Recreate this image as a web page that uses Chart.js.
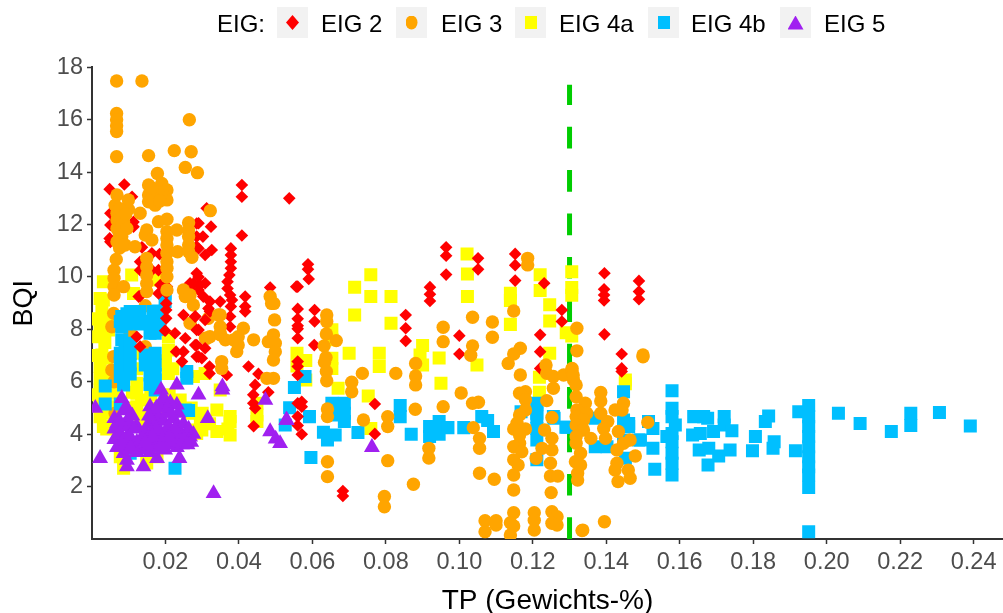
<!DOCTYPE html>
<html>
<head>
<meta charset="utf-8">
<title>BQI TP</title>
<script src="https://cdn.jsdelivr.net/npm/chart.js@4"></script>
<style>
    html, body { margin: 0; padding: 0; background: #fff; }
    #wrap { position: relative; width: 1003px; height: 613px; overflow: hidden; font-family: "Liberation Sans", Arial, sans-serif; }
    #myChart { position: absolute; left: 0; top: 0; }
    .leg { position: absolute; top: 7px; height: 31px; line-height: 34px; font-size: 24px; color: #000; white-space: nowrap; }
    .key { position: absolute; top: 7px; width: 31px; height: 31px; background: #f2f2f2; }
    .key span { position: absolute; }
</style>
</head>
<body>
<div id="wrap">
    <canvas id="myChart" width="1003" height="613"></canvas>
    <div id="legend"></div>
</div>
<script>
// Werte: [TP, BQI]
const eig2 = [
    [.0048,13.35],[.0088,13.53],[.0109,13.06],[.005,12.43],[.005,11.98],[.0113,12.1],[.0113,11.92],[.0048,11.47],[.005,11.34],
    [.0136,11.13],[.0163,10.9],[.0184,10.87],[.0181,10.26],[.0131,10.58],[.0131,10.26],[.0163,10.26],[.0131,9.27],[.0186,9.69],
    [.0204,9.63],[.0181,9.37],[.0285,12.04],[.0285,11.54],[.0284,11.15],[.0285,10.14],[.0276,9.75],[.0267,9.44],[.0294,9.69],
    [.0408,13.51],[.0408,13.06],[.0537,13.0],[.0312,12.62],[.029,12.05],[.0324,11.92],[.0302,11.54],[.0408,11.58],[.0326,11.03],
    [.029,11.09],[.0308,10.84],[.0378,11.09],[.0378,10.84],[.0378,10.58],[.0378,10.33],[.0374,10.07],[.0369,9.82],[.0369,9.56],
    [.0376,9.31],[.0381,9.12],[.029,10.0],[.0267,9.76],[.0308,9.76],[.029,9.5],[.0303,9.25],[.0321,9.06],[.0349,9.06],[.0417,9.25],
    [.0485,9.6],[.0556,9.63],[.0378,8.87],[.0317,8.8],[.0417,8.87],[.0417,8.68],[.0321,8.68],[.0376,8.49],[.0281,8.49],[.0308,8.36],
    [.0376,8.1],[.029,7.98],[.0308,7.28],[.0281,7.4],[.029,6.96],[.0299,6.9],[.0426,6.58],[.032,6.58],[.032,6.32],[.0453,6.3],
    [.0444,5.88],[.0439,5.5],[.0439,5.18],[.0444,4.99],[.048,5.6],[.0367,6.26],[.044,4.3],
    [.0202,9.38],[.0202,8.99],[.0202,8.74],[.0202,8.42],[.0199,7.95],[.0226,7.85],[.0254,7.66],[.0249,8.55],[.0281,8.49],[.0285,7.98],
    [.0285,7.4],[.0229,7.15],[.0249,7.15],[.0245,6.77],[.0285,6.96],[.0131,7.34],[.0122,7.72],[.0127,9.25],
    [.0588,10.48],[.0588,10.29],[.059,9.92],[.056,9.63],[.056,8.78],[.0606,8.74],[.056,8.4],[.056,8.14],[.056,8.02],[.056,7.66],
    [.0606,8.3],[.0605,7.4],[.056,6.77],[.056,6.58],[.056,6.26],[.0571,5.24],[.056,5.18],[.0571,5.05],[.056,4.67],[.056,4.33],[.0571,4.0],
    [.077,5.15],[.077,4.01],[.0683,1.83],[.0683,1.64],[.0964,11.13],[.0964,10.81],[.0964,10.09],[.1051,10.71],[.1051,10.29],
    [.092,9.61],[.092,9.34],[.092,9.08],[.0854,8.55],[.0854,8.04],[.0854,7.56],[.1,7.76],[.1,7.06],[.1152,10.88],[.1152,10.45],[.1152,9.86],
    [.1231,9.76],[.122,7.79],[.122,7.15],[.1279,8.74],[.1279,8.3],[.122,6.51],
    [.1395,10.14],[.1394,9.53],[.1394,9.31],[.1394,9.1],[.1395,7.81],[.1489,9.85],[.1489,9.44],[.1489,9.15],[.1442,7.06],[.1442,6.51],[.1442,6.39]
];
// EIG 3 unter den EIG-4b-Punkten
const eig3Unten = [
    [.0059,8.61],[.0054,8.1],[.0059,6.96],[.0054,6.45],[.0104,7.85],[.0145,7.34],[.0063,4.8],[.0060,6.0],[.0145,8.9],
    [.0267,8.23],[.0313,7.66],[.0254,9.25],[.0276,8.93],[.0317,8.42],[.0321,7.72],[.0309,7.66]
];
// EIG 3 ueber den anderen Punkten
const eig3 = [
    [.0067,17.48],[.0136,17.48],[.0067,16.24],[.0067,16.0],[.0067,15.77],[.0067,15.55],[.0265,16.0],[.0067,14.59],[.0154,14.63],
    [.0224,14.82],[.027,14.78],[.0254,14.18],[.0287,13.98],[.0178,13.95],[.0322,12.53],
    [.0154,13.51],[.019,13.57],[.0204,13.32],[.0154,13.13],[.0172,13.0],[.0154,12.87],[.0172,12.74],[.0204,12.94],[.019,13.25],
    [.018,13.2],[.0165,13.1],[.0185,12.9],[.0163,13.4],
    [.0068,13.13],[.0099,12.94],[.0099,12.58],[.0063,12.74],[.0131,12.43],[.0068,12.43],[.0068,12.17],[.0086,12.11],[.0068,11.85],
    [.0075,12.6],[.0075,12.2],[.0082,12.0],[.0075,11.6],[.0092,12.4],[.0082,11.3],[.0075,11.1],
    [.0095,11.85],[.0081,11.54],[.0068,11.34],[.009,11.22],[.0117,11.15],[.0149,11.79],[.0181,12.11],[.0204,12.2],[.0145,11.6],
    [.0163,11.41],[.0204,11.73],[.0204,11.47],[.0204,11.22],[.0204,10.9],[.0204,10.58],[.0204,10.33],[.0231,11.79],[.0263,12.07],
    [.0263,11.79],[.0263,11.54],[.0263,11.22],[.0233,10.96],[.0263,10.96],[.0272,10.75],[.0149,10.71],[.0149,10.39],[.0149,10.07],
    [.0149,9.75],[.0149,9.44],[.0066,10.67],[.006,10.26],[.006,9.95],[.006,9.63],[.0086,9.63],[.006,9.31],[.0204,10.01],[.0204,9.5],
    [.0249,9.5],[.0267,9.31],
    [.0485,9.25],[.0489,8.99],[.0495,8.99],[.0497,8.36],[.0494,7.79],[.048,7.53],[.0499,7.47],[.0499,7.15],[.0494,6.83],[.044,7.6],
    [.0349,8.55],[.0349,8.1],[.0349,7.79],[.0412,8.04],[.0398,7.72],[.0398,7.4],[.0394,7.15],[.0363,7.6],[.0385,7.6],
    [.0353,6.77],[.0353,6.51],[.0476,6.13],[.0494,6.13],[.0344,8.55],[.0349,7.85],
    [.0639,8.55],[.0639,8.3],[.0638,7.82],[.0632,7.37],[.0637,6.93],[.0633,6.74],[.0638,6.39],[.0639,6.04],[.0665,7.57],
    [.0707,5.98],[.0707,5.62],[.0736,6.32],[.0827,6.32],[.0881,6.7],[.0881,6.22],[.0881,5.88],[.088,4.95],[.0956,8.08],[.0956,7.53],
    [.0956,5.05],[.1036,8.46],[.109,8.28],[.109,7.7],[.1036,7.37],[.1031,7.01],[.1005,5.57],[.1052,5.22],[.1036,5.18],[.1038,4.25],
    [.1055,3.84],[.1055,3.46],[.1055,2.51],[.1095,2.28],[.0641,4.96],[.0641,4.67],[.0739,4.54],[.0805,4.67],[.0805,4.29],[.0641,2.95],
    [.0641,2.38],[.0805,2.99],[.0917,3.46],[.0917,3.09],[.0875,2.09],[.0796,1.62],[.0796,1.23],
    [.1148,8.7],[.1166,7.28],[.1148,7.06],[.1133,6.7],[.1166,6.26],[.1186,10.71],[.1186,10.46],
    [.118,5.62],[.1164,5.56],[.118,5.31],[.118,4.92],[.1164,4.73],[.1157,4.42],[.1148,4.2],[.118,4.2],[.1164,3.97],[.1164,3.65],
    [.1148,3.52],[.117,3.33],[.1148,3.02],[.116,2.82],[.1148,2.44],[.1148,1.87],
    [.1256,5.75],[.1238,5.28],[.1236,6.64],[.1238,6.32],[.1256,6.2],[.1284,6.26],[.1306,6.45],[.1311,6.07],
    [.1252,4.64],[.1232,4.16],[.1252,3.84],[.1225,3.46],[.1252,3.4],[.1209,3.08],[.1248,2.89],[.1248,2.4],[.1268,2.4],[.125,1.77],
    [.107,.7],[.107,.28],[.11,.7],[.11,.53],[.1148,1.0],[.1139,.62],[.1148,.5],[.1139,.15],[.1204,1.0],[.1204,.72],[.1204,.34],
    [.1252,1.04],[.1266,.85],[.1252,.6],[.1266,.53],[.1334,.32],
    [.132,8.04],[.132,7.18],[.15,7.02],[.15,6.95],[.1307,6.51],[.131,6.26],[.1318,5.88],[.1318,5.43],[.1343,5.18],[.132,4.92],
    [.1347,4.8],[.1318,4.67],[.1338,4.54],[.1318,4.35],[.1338,4.16],[.1318,3.91],[.1318,3.65],
    [.1385,5.59],[.1385,5.27],[.1385,4.8],[.1404,4.48],[.1393,4.22],[.1398,3.84],[.1424,4.92],[.1447,5.18],[.1443,4.92],[.1429,3.4],
    [.1447,3.65],[.1465,3.78],[.1433,4.1],[.1479,3.17],[.133,3.27],[.1316,2.95],[.133,2.82],[.1322,2.51],[.1322,2.25],[.1358,3.84],
    [.1429,2.89],[.1424,2.63],[.146,2.63],[.1465,2.32],[.1432,2.19],[.1513,4.45],[.1336,.34],[.1395,.66]
];
const eig4a = [
    [.0108,10.07],[.0031,9.82],[.0113,9.37],[.0181,9.88],[.0022,9.18],[.0031,9.12],[.0027,8.74],[.0022,8.1],[.0018,7.72],[.0027,7.02],
    [.0045,7.98],[.0059,8.23],[.0022,6.58],[.0045,6.32],[.0022,6.13],[.0022,5.69],[.0022,5.18],[.0022,4.67],[.0031,4.29],[.0059,5.56],
    [.0035,8.4],[.0015,8.4],[.0035,7.5],[.0015,7.0],[.004,6.9],[.0045,6.0],[.0035,5.6],[.005,5.0],[.0015,5.5],[.0035,4.8],[.004,4.2],
    [.0122,6.5],[.011,5.6],[.011,5.0],[.0135,5.3],[.0135,4.7],[.016,5.5],[.018,5.0],[.02,6.8],[.022,6.5],[.021,5.5],[.024,5.3],[.027,5.0],
    [.03,4.8],[.032,4.4],[.037,4.2],
    [.0059,5.05],[.0122,5.94],[.0122,5.56],[.0122,5.05],[.0131,4.48],[.0122,7.09],[.0208,7.72],[.0208,7.21],[.0208,6.32],[.0276,6.2],
    [.0308,6.32],[.0295,4.54],[.0285,4.03],[.034,4.92],[.0376,4.67],[.034,4.1],[.0376,3.97],[.0376,4.48],[.0267,4.8],[.0449,4.73],
    [.0449,5.18],[.0449,4.48],[.0349,5.69],[.0158,4.67],[.0077,3.14],[.0086,2.7],[.0149,2.9],[.0177,3.14],[.0272,4.16],[.0299,4.16],
    [.0759,10.08],[.0715,9.61],[.0759,9.25],[.0814,9.25],[.0715,8.55],[.0814,8.23],[.0653,7.98],[.0653,7.6],[.07,7.09],[.09,7.38],
    [.0782,7.09],[.0782,6.58],[.0893,7.02],[.09,6.64],[.0945,6.91],[.1048,6.64],[.1021,10.88],[.1022,10.11],[.1022,9.25],[.1139,9.38],
    [.1139,9.1],[.1139,8.19],[.122,10.08],[.122,9.48],[.1246,8.94],[.1246,8.32],[.1306,10.2],[.1306,9.6],[.1306,9.3],[.1291,7.87],
    [.1306,7.75],[.1246,7.09],[.1218,6.17],[.1218,5.6],[.095,5.94],[.067,5.75],[.0752,5.46],[.0759,4.22],[.0558,7.09],[.0558,6.6],
    [.0582,6.81],[.0582,6.07],[.0653,6.9],[.0653,6.51],[.1452,5.92],[.1452,6.07]
];
const eig4b = [
    [.0081,8.49],[.0104,8.68],[.0131,8.68],[.0167,8.68],[.0081,8.1],[.0081,7.6],[.0108,8.23],[.0158,8.23],[.0158,7.85],[.0077,7.09],
    [.0095,8.6],[.0095,8.2],[.0131,8.2],[.0145,8.3],[.018,8.7],[.018,8.3],[.0172,7.85],[.0077,8.3],[.009,7.4],[.009,6.9],[.009,6.4],
    [.0104,6.3],[.0185,8.0],[.0172,6.3],[.0158,5.9],
    [.0104,7.47],[.0104,7.09],[.0077,6.7],[.0077,6.2],[.0104,6.64],[.0086,5.88],[.0145,7.02],[.0172,7.09],[.0145,6.64],[.0172,6.64],
    [.0158,6.26],[.0172,6.07],[.0172,5.69],[.0036,5.84],[.0036,5.15],[.0077,5.15],[.0199,9.38],[.0199,9.06],[.0258,6.39],[.0258,6.13],
    [.0254,4.92],[.0226,2.7],[.0104,3.27],[.0263,4.9],
    [.058,6.2],[.0551,5.78],[.0538,5.01],[.0592,4.67],[.0526,4.35],[.0653,5.18],[.0687,5.18],[.0687,4.8],[.0687,4.48],[.0668,5.05],
    [.0653,4.73],[.063,4.07],[.0641,3.78],[.0662,3.97],[.0724,4.06],[.0839,5.09],[.0839,4.67],[.0869,4.0],[.0919,4.29],[.0919,3.91],
    [.0945,4.48],[.0945,4.0],[.0969,4.25],[.1012,4.25],[.1061,4.67],[.1077,4.52],[.1093,4.1],[.0596,3.11],[.1168,4.86],[.1211,5.12],
    [.1211,4.67],[.1211,4.22],[.1211,3.78],[.1211,3.02],[.1256,4.67],[.1293,4.26],
    [.1579,5.66],[.1579,4.99],[.1579,4.67],[.1588,4.35],[.1579,4.03],[.1565,3.91],[.1579,3.71],[.1579,3.27],[.1579,2.89],[.1579,2.44],
    [.1527,4.22],[.1515,4.48],[.1532,2.66],[.1527,3.46],[.1488,3.78],[.1461,4.41],
    [.1638,4.67],[.1676,4.61],[.1665,4.67],[.1721,4.67],[.1721,4.35],[.1635,3.97],[.1656,4.03],[.1692,4.1],[.1742,4.13],[.1653,3.4],
    [.1679,3.46],[.1706,3.17],[.1737,3.4],[.1677,2.82],[.1833,4.48],[.1842,4.69],[.1806,3.91],[.1798,3.37],[.1854,3.46],[.1857,3.71],
    [.1915,3.37],[.1924,4.86],[.1951,5.09],[.1951,4.67],[.1951,4.29],[.1951,3.91],[.1951,3.52],[.1951,3.14],[.1951,2.76],[.1951,2.44],
    [.1951,1.97],[.1951,.28],[.2032,4.8],[.2091,4.41],[.2176,4.1],[.2229,4.8],[.2229,4.33],[.2307,4.83],[.2391,4.31],
    [.1211,5.18],[.1211,4.8],[.1258,4.61],[.129,4.26],[.137,4.61],[.137,3.52],[.1402,3.52],[.1447,5.62],[.1447,4.54],[.1461,4.29],
    [.1447,3.78],[.1452,3.08],[.1493,3.78]
];
const eig5 = [
    [.0188,5.69],[.0231,5.88],[.029,5.5],[.0355,5.81],[.0355,5.69],[.0315,4.6],[.0485,4.1],[.05,3.82],[.0022,3.08],[.0331,1.74],
    [.0472,5.3],[.053,4.54],[.0081,5.37],[.0009,4.99],[.0158,5.05],[.0231,5.12],[.019,5.12],[.0095,2.76],[.014,2.76],[.0177,3.08],
    [.0238,3.08],[.0095,3.01],[.0086,3.27],[.0762,3.5],[.0529,4.54],[.0512,3.65],
    [.0061,4.6],[.0061,4.2],[.0061,3.8],[.0068,3.5],[.0068,4.4],[.0077,4.0],[.0077,3.6],[.0086,4.9],[.0086,4.3],[.0086,3.8],[.0095,5.0],
    [.0095,4.5],[.0095,3.9],[.0095,3.4],[.0104,4.4],[.0104,3.9],[.0113,3.6],[.0122,4.3],[.0122,3.7],[.0122,3.3],
    [.0135,3.8],[.014,3.4],[.0145,4.1],[.0149,3.5],[.0154,4.4],[.0158,3.9],[.0158,3.3],[.0163,4.7],[.0163,4.1],[.0167,3.6],[.0172,4.9],
    [.0172,4.3],[.0172,3.9],[.0177,3.5],[.0181,4.6],[.0186,4.1],[.019,5.2],[.019,3.7],[.0195,4.5],[.0199,4.0],[.0199,3.4],[.0204,4.8],
    [.0208,4.3],[.0208,3.6],[.0213,5.2],[.0217,4.0],[.0222,4.6],[.0226,3.8],[.0231,4.3],[.0231,3.5],[.0235,4.8],[.024,4.0],[.0245,3.6],
    [.0249,4.4],[.0254,4.0],[.0258,3.7],[.0263,4.2],[.0267,3.9],[.0276,4.0],
    [.0185,5.0],[.0195,5.4],[.0205,5.0],[.0215,4.8],[.0175,5.0],[.0225,4.2],[.0195,3.9],[.0175,4.2],[.0155,3.6],[.0165,3.9],[.0185,3.5],
    [.021,3.9],[.0235,3.7],[.025,3.8],[.026,3.6],[.027,3.7],[.0155,4.7],[.0145,3.7],[.0075,4.5],[.0085,3.5],[.0105,3.5],[.011,4.7],[.0115,4.2]
];
// Grenzwert TP
const grenzeTP = [[.13,0],[.13,17.33]];

const xTicks = [.02,.04,.06,.08,.10,.12,.14,.16,.18,.20,.22,.24];
const yTicks = [2,4,6,8,10,12,14,16,18];

const puntos = lista => lista.map(p => ({ x: p[0], y: p[1] }));

// Serien, die Reihenfolge entspricht dem Bild: erste Serie liegt oben
function serie(data, color, pointStyle, radius) {
    return {
        data: puntos(data),
        pointStyle: pointStyle,
        radius: radius,
        backgroundColor: color,
        borderColor: color,
        borderWidth: 0,
        hoverRadius: radius
    };
}

const ctx = document.getElementById('myChart').getContext('2d');
const myChart = new Chart(ctx, {
    type: 'scatter',
    data: {
        datasets: [
            serie(eig5, '#a020f0', 'triangle', 9.2),
            serie(eig3, '#ffa500', 'circle', 6.7),
            serie(eig2, '#ff0000', 'rectRot', 6.3),
            serie(eig4b, '#00bfff', 'rect', 9.2),
            serie(eig3Unten, '#ffa500', 'circle', 6.7),
            serie(eig4a, '#ffff00', 'rect', 9.2),
            {
                data: puntos(grenzeTP),
                showLine: true,
                radius: 0,
                borderColor: '#00cd00',
                borderWidth: 5,
                borderDash: [21.7, 21.7]
            }
        ]
    },
    options: {
        responsive: false,
        animation: false,
        layout: { autoPadding: false, padding: { top: 67.3, right: 0, left: 0, bottom: 0 } },
        plugins: {
            legend: { display: false },
            tooltip: { enabled: false }
        },
        scales: {
            x: {
                type: 'linear',
                min: 0,
                max: 0.248,
                afterFit: scale => { scale.height = 74; },
                afterBuildTicks: scale => { scale.ticks = xTicks.map(v => ({ value: v })); },
                border: { color: '#333333', width: 2 },
                grid: { drawOnChartArea: false, tickColor: '#333333', tickLength: 5, tickWidth: 1.5 },
                ticks: {
                    autoSkip: false,
                    maxRotation: 0,
                    padding: 4,
                    color: '#4d4d4d',
                    font: { family: 'Liberation Sans', size: 23.5 },
                    callback: v => v.toFixed(2)
                },
                title: {
                    display: true,
                    text: 'TP (Gewichts-%)',
                    color: '#000',
                    padding: { top: 0, bottom: -5 },
                    font: { family: 'Liberation Sans', size: 28 }
                }
            },
            y: {
                type: 'linear',
                min: 0,
                max: 18,
                afterFit: scale => { scale.width = 92; },
                afterBuildTicks: scale => { scale.ticks = yTicks.map(v => ({ value: v })); },
                border: { color: '#333333', width: 2 },
                grid: { drawOnChartArea: false, tickColor: '#333333', tickLength: 5, tickWidth: 1.5 },
                ticks: {
                    padding: 4,
                    color: '#4d4d4d',
                    font: { family: 'Liberation Sans', size: 23.5 }
                },
                title: {
                    display: true,
                    text: 'BQI',
                    color: '#000',
                    padding: { top: 8, bottom: 0 },
                    font: { family: 'Liberation Sans', size: 27 }
                }
            }
        }
    }
});

// Legende oben, wie im Original mit grauen Kaesten
const legendLeft = [{ text: 'EIG:', x: 217 }];
const legendItems = [
    { text: 'EIG 2', color: '#ff0000', key: 277, x: 321, shape: 'polygon(50% 0,100% 50%,50% 100%,0 50%)', w: 13, h: 15 },
    { text: 'EIG 3', color: '#ffa500', key: 396, x: 441, shape: 'ellipse(50% 50%)', w: 12, h: 14 },
    { text: 'EIG 4a', color: '#ffff00', key: 515, x: 559, shape: 'none', w: 12, h: 13 },
    { text: 'EIG 4b', color: '#00bfff', key: 648, x: 691, shape: 'none', w: 12, h: 13 },
    { text: 'EIG 5', color: '#a020f0', key: 780, x: 824, shape: 'polygon(50% 0,100% 100%,0 100%)', w: 16, h: 14 }
];

function dibujarLeyenda() {
    const cont = document.getElementById('legend');
    let html = '';
    legendLeft.forEach(l => { html += `<div class="leg" style="left:${l.x}px">${l.text}</div>`; });
    legendItems.forEach(l => {
        const left = (31 - l.w) / 2, top = (31 - l.h) / 2;
        html += `<div class="key" style="left:${l.key}px"><span style="left:${left}px;top:${top}px;width:${l.w}px;height:${l.h}px;background:${l.color};clip-path:${l.shape}"></span></div>`;
        html += `<div class="leg" style="left:${l.x}px">${l.text}</div>`;
    });
    cont.innerHTML = html;
}
dibujarLeyenda();
</script>
</body>
</html>
